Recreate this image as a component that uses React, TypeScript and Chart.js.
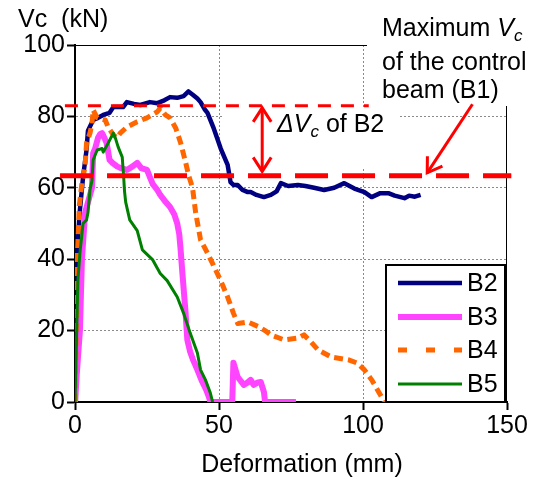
import React, { useEffect, useRef } from "react";
import { Chart, registerables } from "chart.js";

Chart.register(...registerables);

// ---------- data ----------
const b2X = [0, 0.3, 0.7, 1.5, 2.8, 4, 4.5, 6.3, 8, 9.8, 12, 13.3, 16.7, 18, 20.5, 22.7, 26, 28.6, 31, 33, 35.5, 37.7, 39.4, 41, 42.5, 43.6, 45, 46, 48, 50.6, 53, 54, 55, 56.5, 58, 60, 61, 63, 65.6, 68, 70, 71.5, 74, 77.4, 80, 83, 86.5, 90, 93.5, 97, 100.5, 103, 106, 108.8, 111, 114.4, 116, 118, 120];
const b2Y = [0, 15, 40, 52, 63, 70.6, 76, 79, 79.6, 80.4, 81, 82.6, 82.6, 84, 83.5, 83.2, 84, 83.7, 84.5, 85.4, 85.2, 85.7, 87, 86, 85, 84, 82, 81, 77, 71, 66.4, 61.6, 60.8, 60.8, 59.5, 58.8, 58.8, 58, 57.4, 58, 59, 61.3, 60.5, 60.8, 60.5, 60, 59.4, 60, 61.3, 59.8, 58.8, 57.4, 58.5, 58.5, 57.8, 57.1, 57.8, 57.5, 58];

const b3X = [0, 0.8, 1.7, 2.4, 3.5, 5.9, 6.3, 7, 8, 8.7, 9.4, 10.2, 11, 12, 13, 14.6, 16, 18, 20, 21.6, 23, 25, 26, 27, 28.5, 29.6, 31.5, 33, 34.5, 35.5, 36.2, 36.6, 37.3, 37.9, 38.4, 39, 40, 41, 42.5, 44, 45.5, 46.5, 47, 50, 54.6, 55, 56.5, 58.6, 60, 61, 62, 63.5, 64.5, 65.6, 66, 70, 76.7];
const b3Y = [0, 10, 20, 40, 53, 60, 69.7, 71, 74, 75, 75.3, 74, 72.5, 67.8, 67, 66, 65.5, 65, 66, 67, 65.5, 65, 63, 61, 59.5, 58, 56, 54.6, 52.5, 50, 47, 43.4, 36, 30, 24.9, 17.4, 14, 11.8, 9, 6, 3.5, 1.4, 0, 0, 0, 11, 7, 4.8, 5.5, 6.2, 4.8, 5.5, 5.6, 2.8, 0, 0, 0];

const b4X = [0, 0.4, 0.8, 1.5, 2.5, 3.5, 4, 5.2, 5.9, 6.3, 7.7, 10.5, 11.5, 13.3, 14.6, 15.7, 18, 21.6, 25, 28.6, 29.6, 31.4, 33, 35, 36.6, 38.4, 39.4, 40.8, 41.9, 43.6, 46, 48, 50.6, 53, 55, 56.5, 60, 64, 66, 68, 72.6, 77.4, 79.5, 82, 84.4, 89, 95, 98, 100.5, 103, 105, 107.5];
const b4Y = [0, 20, 40, 55, 62, 66, 72.5, 75.3, 78, 81.8, 79.6, 79, 77, 74.8, 74, 75.3, 77, 78.5, 79.6, 81.3, 82.3, 80.4, 79.6, 76.7, 72.8, 67.2, 63.6, 60, 53, 45.4, 41.7, 38.4, 34, 29.4, 24.9, 22, 22.4, 21, 20, 18.8, 17.4, 17.9, 18.8, 16.8, 14.6, 12.6, 11.8, 10.9, 9, 6.2, 3.4, 0];

const b5X = [0, 0.6, 1, 1.7, 2.8, 4, 4.5, 5.2, 5.9, 6.3, 7.7, 9.4, 9.8, 11.5, 13.3, 14, 15, 16.4, 16.9, 17.2, 17.6, 19, 21.6, 23.4, 27, 29.6, 32, 35.5, 37.7, 40, 42.5, 43.6, 45.3, 47, 47.8];
const b5Y = [0, 20, 34, 41.7, 50, 51, 53, 59.4, 62, 67.8, 70.6, 71, 70, 72.5, 75.3, 74, 71.4, 68.6, 63, 59, 56, 51, 48, 42.6, 39.8, 36, 34, 29.4, 24.9, 19.3, 13.7, 9, 6.2, 2.5, 0];

const seriesNames = ["B2", "B3", "B4", "B5"];
const xTicks = [0, 50, 100, 150];
const yTicks = [0, 20, 40, 60, 80, 100];

// reference lines (kN) and their x extents (mm)
const upperRefY = 83;
const upperRefX = [-3.5, 102];
const controlMaxY = 63.4;
const controlRefX = [-5.2, 151.5];

// annotation anchors in data units
const deltaArrowX = 65;
const deltaArrowY = [82.4, 64.6];
const pointerFrom = [138, 83.4];
const pointerTo = [122.3, 64.2];

const FONT = "'Liberation Sans', Arial, Helvetica, sans-serif";
const FS = 25;

const pts = (xs: number[], ys: number[]) => xs.map((x, i) => ({ x, y: ys[i] }));

function arrowHead(ctx: CanvasRenderingContext2D, x1: number, y1: number, x2: number, y2: number, len: number, half: number) {
  const a = Math.atan2(y2 - y1, x2 - x1);
  const bx = x2 - len * Math.cos(a);
  const by = y2 - len * Math.sin(a);
  ctx.beginPath();
  ctx.moveTo(bx + half * Math.sin(a), by - half * Math.cos(a));
  ctx.lineTo(x2, y2);
  ctx.lineTo(bx - half * Math.sin(a), by + half * Math.cos(a));
  ctx.stroke();
}

const decorPlugin = {
  id: "decor",
  beforeDatasetsDraw(chart: any) {
    const { ctx, chartArea: a } = chart;
    ctx.save();
    ctx.strokeStyle = "#000";
    ctx.lineWidth = 1;
    ctx.beginPath();
    ctx.moveTo(a.left, a.top + 0.5);
    ctx.lineTo(a.right, a.top + 0.5);
    ctx.moveTo(a.right - 0.5, a.top);
    ctx.lineTo(a.right - 0.5, a.bottom);
    ctx.stroke();
    ctx.fillStyle = "#fff";
    ctx.fillRect(222, 107, 178, 62);
    ctx.fillRect(367, 0, 175, 106);
    ctx.restore();
  },
  afterDraw(chart: any) {
    const { ctx } = chart;
    const xs = chart.scales.x;
    const ys = chart.scales.y;
    ctx.save();
    ctx.fillStyle = "#000";
    ctx.textBaseline = "alphabetic";
    ctx.textAlign = "left";
    // axis titles
    ctx.font = `${FS}px ${FONT}`;
    ctx.fillText("Vc  (kN)", 18, 27);
    ctx.textAlign = "center";
    ctx.fillText("Deformation (mm)", 302, 472);
    ctx.textAlign = "left";

    // Maximum Vc text
    let x = 382;
    ctx.font = `${FS}px ${FONT}`;
    ctx.fillText("Maximum ", x, 36);
    x += ctx.measureText("Maximum ").width;
    ctx.font = `italic ${FS}px ${FONT}`;
    ctx.fillText("V", x, 36);
    x += ctx.measureText("V").width;
    ctx.font = `italic 17px ${FONT}`;
    ctx.fillText("c", x, 41);
    ctx.font = `${FS}px ${FONT}`;
    ctx.fillText("of the control", 382, 70);
    ctx.fillText("beam (B1)", 382, 98);

    // Delta Vc text
    x = 277;
    ctx.font = `italic ${FS}px ${FONT}`;
    ctx.fillText("\u0394V", x, 132);
    x += ctx.measureText("\u0394V").width;
    ctx.font = `italic 17px ${FONT}`;
    ctx.fillText("c", x, 137);
    x += ctx.measureText("c").width;
    ctx.font = `${FS}px ${FONT}`;
    ctx.fillText(" of B2", x, 132);

    // arrows
    ctx.strokeStyle = "#ff0000";
    ctx.lineWidth = 3;
    ctx.lineJoin = "miter";
    const ax = xs.getPixelForValue(deltaArrowX);
    const ay1 = ys.getPixelForValue(deltaArrowY[0]);
    const ay2 = ys.getPixelForValue(deltaArrowY[1]);
    ctx.beginPath();
    ctx.moveTo(ax, ay1);
    ctx.lineTo(ax, ay2);
    ctx.stroke();
    arrowHead(ctx, ax, ay2, ax, ay1, 14, 9);
    arrowHead(ctx, ax, ay1, ax, ay2, 14, 9);

    const px1 = xs.getPixelForValue(pointerFrom[0]);
    const py1 = ys.getPixelForValue(pointerFrom[1]);
    const px2 = xs.getPixelForValue(pointerTo[0]);
    const py2 = ys.getPixelForValue(pointerTo[1]);
    ctx.beginPath();
    ctx.moveTo(px1, py1);
    ctx.lineTo(px2, py2);
    ctx.stroke();
    arrowHead(ctx, px1, py1, px2, py2, 14, 9);

    // legend
    const lx = 386, ly = 265, lw = 119, lh = 137;
    ctx.fillStyle = "#fff";
    ctx.fillRect(lx, ly, lw, lh);
    ctx.strokeStyle = "#000";
    ctx.lineWidth = 2;
    ctx.strokeRect(lx, ly, lw, lh);
    const rows = [283, 317, 350, 384];
    chart.data.datasets.forEach((ds: any) => {
      const idx = seriesNames.indexOf(ds.label);
      if (idx < 0) return;
      const y = rows[idx];
      ctx.strokeStyle = ds.borderColor;
      ctx.lineWidth = ds.borderWidth;
      ctx.setLineDash(ds.legendDash || []);
      ctx.beginPath();
      ctx.moveTo(398, y);
      ctx.lineTo(462, y);
      ctx.stroke();
      ctx.setLineDash([]);
      ctx.fillStyle = "#000";
      ctx.font = `${FS}px ${FONT}`;
      ctx.textBaseline = "middle";
      ctx.fillText(ds.label, 467, y + 1);
    });
    ctx.restore();
  },
};

export default function App() {
  const ref = useRef<HTMLCanvasElement>(null);
  useEffect(() => {
    const canvas = ref.current;
    if (!canvas) return;
    const gridColor = (v: number, ends: number[]) => (ends.includes(v) ? "rgba(0,0,0,0)" : "#8a8a8a");
    const chart = new Chart(canvas, {
      type: "line",
      data: {
        datasets: [
          { label: "upper", data: pts(upperRefX, [upperRefY, upperRefY]), borderColor: "#ff0000", borderWidth: 3, borderDash: [13, 10], pointRadius: 0, clip: false as any, order: 0 },
          { label: "control", data: pts(controlRefX, [controlMaxY, controlMaxY]), borderColor: "#ff0000", borderWidth: 5, borderDash: [33, 14], pointRadius: 0, clip: false as any, order: 0 },
          { label: "B2", data: pts(b2X, b2Y), borderColor: "#000080", borderWidth: 4.5, pointRadius: 0, order: 4 },
          { label: "B3", data: pts(b3X, b3Y), borderColor: "#ff44ff", borderWidth: 6, pointRadius: 0, order: 3 },
          { label: "B4", data: pts(b4X, b4Y), borderColor: "#ff6600", borderWidth: 5, borderDash: [9, 5], legendDash: [9, 19], pointRadius: 0, order: 2 } as any,
          { label: "B5", data: pts(b5X, b5Y), borderColor: "#008000", borderWidth: 3, pointRadius: 0, order: 1 },
        ],
      },
      options: {
        responsive: false,
        animation: false,
        devicePixelRatio: 1,
        layout: { padding: { left: 0, right: 35, top: 45, bottom: 0 } },
        plugins: { legend: { display: false }, tooltip: { enabled: false } },
        elements: { line: { tension: 0, borderJoinStyle: "round", borderCapStyle: "butt" } },
        scales: {
          x: {
            type: "linear",
            min: 0,
            max: 150,
            afterBuildTicks: (s: any) => { s.ticks = xTicks.map((v) => ({ value: v })); },
            afterFit: (s: any) => { s.height = 77; },
            grid: {
              color: (c: any) => gridColor(c.tick.value, [0, 150]),
              lineWidth: 1,
              tickColor: "#000",
              tickLength: 8,
              tickWidth: 2,
            },
            border: { color: "#000", width: 2, dash: [2, 2] },
            ticks: { color: "#000", font: { family: FONT, size: FS }, padding: 1, maxRotation: 0 },
          },
          y: {
            type: "linear",
            min: 0,
            max: 100,
            afterBuildTicks: (s: any) => { s.ticks = yTicks.map((v) => ({ value: v })); },
            afterFit: (s: any) => { s.width = 75; },
            grid: {
              color: (c: any) => gridColor(c.tick.value, [0, 100]),
              lineWidth: 1,
              tickColor: "#000",
              tickLength: 8,
              tickWidth: 2,
            },
            border: { color: "#000", width: 2, dash: [2, 2] },
            ticks: { color: "#000", font: { family: FONT, size: FS }, padding: 2 },
          },
        },
      },
      plugins: [decorPlugin],
    });
    return () => chart.destroy();
  }, []);
  return (
    <div style={{ position: "absolute", left: 0, top: 0, width: 542, height: 479, background: "#fff" }}>
      <canvas ref={ref} width={542} height={479} style={{ display: "block", width: 542, height: 479 }} />
    </div>
  );
}
